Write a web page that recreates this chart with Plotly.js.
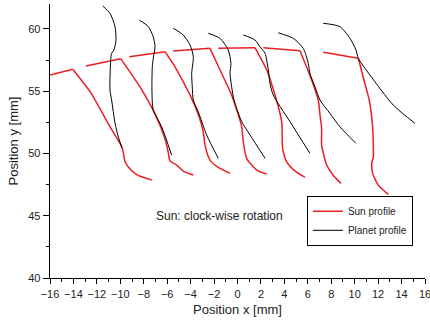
<!DOCTYPE html>
<html>
<head>
<meta charset="utf-8">
<script src="https://cdn.plot.ly/plotly-3.0.1.min.js"></script>
<style>html,body{margin:0;padding:0;background:#fff}#chart{width:430px;height:327px}</style>
</head>
<body>
<div id="chart"></div>
<script>
// Sun profile: top lands (straight) per tooth
const sunLandX = [[-16, -14.06], [-12.93, -9.97], [-9.23, -6.19], [-5.48, -2.35], [-1.64, 1.49], [2.20, 5.33], [7.32, 10.31]];
const sunLandY = [[56.30, 56.76], [57.02, 57.61], [57.77, 58.17], [58.22, 58.44], [58.44, 58.49], [58.49, 58.25], [58.12, 57.64]];
// Sun profile: flank + root fillet per tooth
const sunFlankX = [
  [-14.06, -12.5, -10.88, -9.88, -9.72, -9.62, -9.3, -8.6, -7.3],
  [-9.97, -8.15, -7.0, -6.2, -5.93, -5.76, -5.19, -4.63, -3.77],
  [-6.19, -5.3, -4.05, -3.3, -2.92, -2.77, -2.35, -1.67, -0.64],
  [-2.35, -1.41, -0.50, 0.36, 0.49, 0.78, 1.64, 2.49],
  [1.49, 2.49, 3.20, 3.77, 3.85, 4.20, 4.90, 5.76],
  [5.33, 6.10, 6.89, 7.04, 7.18, 7.18, 7.61, 8.15, 8.83],
  [10.31, 10.79, 11.24, 11.53, 11.59, 11.45, 11.53, 12.01, 12.87]
];
const sunFlankY = [
  [56.76, 54.85, 52.14, 50.54, 49.95, 49.4, 48.9, 48.3, 47.86],
  [57.61, 55.09, 53.1, 51.2, 50.2, 49.4, 49.07, 48.59, 48.27],
  [58.17, 56.9, 54.69, 53.0, 51.74, 50.67, 49.47, 48.9, 48.40],
  [58.44, 56.54, 54.69, 52.14, 50.94, 49.61, 48.67, 48.35],
  [58.49, 56.70, 54.69, 52.55, 50.41, 49.33, 48.6, 48.08],
  [58.25, 56.46, 54.29, 53.08, 52.02, 50.67, 49.07, 48.27, 47.60],
  [57.64, 55.9, 54.29, 52.14, 49.73, 49.20, 48.40, 47.46, 46.71]
];
// Planet profiles
const planetX = [
  [-11.50, -10.88, -10.45, -10.37, -10.54, -10.74, -10.82, -10.88, -10.74, -10.45, -10.17, -9.86],
  [-8.38, -7.61, -7.19, -7.04, -7.19, -7.27, -7.30, -7.19, -6.47, -5.62],
  [-5.48, -4.63, -4.05, -3.77, -3.91, -3.86, -3.77, -3.35, -2.63, -1.64],
  [-2.49, -1.49, -0.79, -0.56, -0.64, -0.50, -0.30, 0.36, 1.07, 2.35],
  [0.49, 1.49, 1.92, 2.35, 2.63, 2.77, 3.05, 4.48, 6.18],
  [3.48, 4.76, 5.61, 6.04, 6.18, 6.61, 7.04, 7.89, 8.74, 10.11],
  [7.32, 8.74, 9.60, 10.11, 10.31, 11.30, 13.29, 15.14]
];
const planetY = [
  [61.84, 61.25, 60.18, 59.11, 58.31, 58.04, 57.50, 55.09, 54.29, 52.42, 51.34, 50.43],
  [60.71, 60.18, 59.37, 58.57, 57.64, 56.96, 55.09, 53.49, 52.14, 49.87],
  [60.05, 59.51, 58.71, 57.77, 56.43, 55.36, 54.29, 53.35, 51.48, 49.61],
  [59.65, 59.24, 58.31, 57.24, 56.43, 55.36, 54.29, 52.55, 51.48, 49.61],
  [59.51, 59.11, 58.57, 58.04, 56.70, 55.63, 54.69, 52.55, 50.01],
  [59.69, 59.24, 58.44, 57.24, 56.43, 55.36, 54.29, 53.22, 52.14, 50.81],
  [60.45, 60.18, 59.24, 58.31, 57.64, 56.30, 53.89, 52.42]
];
const seriesNames = ['Sun profile', 'Planet profile'];
const annotationText = 'Sun: clock-wise rotation';

function joinSegments(arrs) {
  const out = [];
  arrs.forEach((a, i) => { if (i > 0) out.push(null); a.forEach(v => out.push(v)); });
  return out;
}

const RED = '#ee1d23';
const traces = [
  { x: joinSegments(sunFlankX), y: joinSegments(sunFlankY), mode: 'lines', name: seriesNames[0],
    line: { color: RED, width: 1.5, shape: 'spline', smoothing: 0.6 }, connectgaps: false, legendgroup: 'sun' },
  { x: joinSegments(sunLandX), y: joinSegments(sunLandY), mode: 'lines', name: seriesNames[0], showlegend: false,
    line: { color: RED, width: 1.5 }, connectgaps: false, legendgroup: 'sun' },
  { x: joinSegments(planetX), y: joinSegments(planetY), mode: 'lines', name: seriesNames[1],
    line: { color: '#000000', width: 1, shape: 'spline', smoothing: 0.7 }, connectgaps: false }
];

const FONT = 'Arial, "Liberation Sans", sans-serif';
const layout = {
  width: 430, height: 327,
  margin: { l: 50, r: 5, t: 4, b: 49 },
  paper_bgcolor: '#fff', plot_bgcolor: '#fff',
  font: { family: FONT, color: '#000', size: 11 },
  showlegend: true,
  legend: { x: 0.685, y: 0.30, xanchor: 'left', yanchor: 'top', bgcolor: '#fff', itemwidth: 30,
    bordercolor: '#000', borderwidth: 1, font: { family: FONT, size: 10, color: '#222' }, tracegroupgap: 0 },
  xaxis: { range: [-16, 16], tick0: -16, dtick: 2, ticks: 'outside', ticklen: 5, tickwidth: 1, tickcolor: '#000',
    showline: true, linecolor: '#000', linewidth: 1.3, showgrid: false, zeroline: false, ticklabeloverflow: 'allow',
    minor: { dtick: 1, ticks: 'outside', ticklen: 3, tickwidth: 1, tickcolor: '#000' },
    tickfont: { size: 11, family: FONT, color: '#222' },
    title: { text: 'Position x [mm]', font: { size: 13, family: FONT, color: '#222' }, standoff: 6 } },
  yaxis: { range: [40, 62], tick0: 40, dtick: 5, ticks: 'outside', ticklen: 6, tickwidth: 1, tickcolor: '#000',
    showline: true, linecolor: '#000', linewidth: 1.3, showgrid: false, zeroline: false,
    minor: { dtick: 2.5, ticks: 'outside', ticklen: 3, tickwidth: 1, tickcolor: '#000' },
    tickfont: { size: 11, family: FONT, color: '#222' },
    title: { text: 'Position y [mm]', font: { size: 13, family: FONT, color: '#222' }, standoff: 6 } },
  annotations: [{ x: -1.5, y: 45, xref: 'x', yref: 'y', text: annotationText, showarrow: false,
    font: { size: 12, family: FONT, color: '#222' } }]
};

Plotly.newPlot('chart', traces, layout, { staticPlot: true, displayModeBar: false });
</script>
</body>
</html>
